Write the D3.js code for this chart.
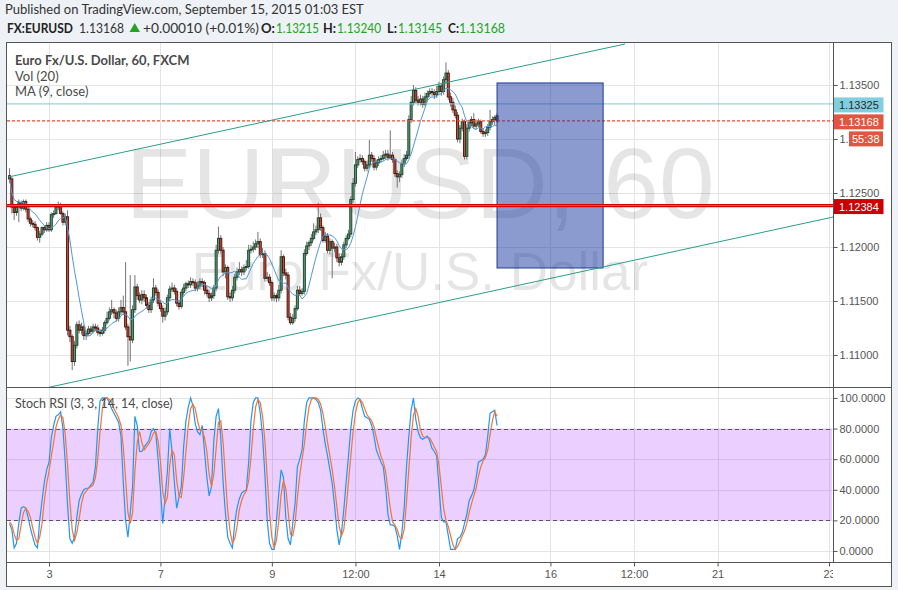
<!DOCTYPE html>
<html><head><meta charset="utf-8">
<script src="https://cdn.jsdelivr.net/npm/d3@7"></script>
<style>
html,body{margin:0;padding:0;background:#eef1f5;}
svg{display:block;}
</style></head><body>
<svg id="c" width="898" height="590"></svg>
<script>
// ---------- DATA (EUR/USD hourly, FXCM) ----------
const openP = [1.1266,1.1263,1.1237,1.1232,1.1237,1.1241,1.1236,1.1242,1.1235,1.1226,
1.1222,1.1221,1.1218,1.1209,1.1212,1.1218,1.1216,1.1220,1.1216,1.1230,
1.1231,1.1237,1.1239,1.1231,1.1223,1.1228,1.1123,1.1117,1.1094,1.1109,
1.1128,1.1123,1.1126,1.1118,1.1120,1.1124,1.1122,1.1126,1.1125,1.1121,
1.1120,1.1123,1.1130,1.1134,1.1140,1.1142,1.1139,1.1134,1.1140,1.1144,
1.1140,1.1126,1.1117,1.1114,1.1142,1.1163,1.1155,1.1151,1.1156,1.1153,
1.1146,1.1142,1.1151,1.1162,1.1158,1.1148,1.1143,1.1136,1.1140,1.1153,
1.1161,1.1162,1.1159,1.1148,1.1145,1.1158,1.1162,1.1166,1.1165,1.1168,
1.1167,1.1162,1.1164,1.1168,1.1167,1.1160,1.1157,1.1153,1.1155,1.1162,
1.1197,1.1208,1.1197,1.1177,1.1181,1.1154,1.1153,1.1160,1.1172,1.1177,
1.1179,1.1177,1.1181,1.1182,1.1197,1.1198,1.1200,1.1203,1.1205,1.1193,
1.1194,1.1171,1.1172,1.1167,1.1153,1.1155,1.1153,1.1160,1.1191,1.1176,
1.1174,1.1135,1.1130,1.1134,1.1143,1.1160,1.1157,1.1159,1.1194,1.1201,
1.1204,1.1208,1.1214,1.1216,1.1227,1.1218,1.1206,1.1210,1.1197,1.1205,
1.1199,1.1200,1.1190,1.1186,1.1191,1.1202,1.1208,1.1212,1.1244,1.1259,
1.1276,1.1281,1.1282,1.1279,1.1273,1.1276,1.1285,1.1282,1.1274,1.1278,
1.1281,1.1282,1.1285,1.1286,1.1283,1.1285,1.1281,1.1268,1.1265,1.1267,
1.1277,1.1282,1.1285,1.1318,1.1334,1.1345,1.1336,1.1334,1.1337,1.1332,
1.1339,1.1342,1.1344,1.1343,1.1341,1.1344,1.1349,1.1344,1.1355,1.1361,
1.1339,1.1334,1.1327,1.1322,1.1300,1.1310,1.1316,1.1284,1.1310,1.1315,
1.1318,1.1312,1.1314,1.1316,1.1307,1.1305,1.1306,1.1311,1.1316,1.1318,
1.13215];
const highP = [1.1273,1.1265,1.1240,1.1239,1.1244,1.1243,1.1244,1.1244,1.1237,1.1228,
1.1225,1.1224,1.1219,1.1215,1.1219,1.1220,1.1223,1.1223,1.1232,1.1234,
1.1240,1.1242,1.1241,1.1233,1.1231,1.1234,1.1127,1.1119,1.1113,1.1131,
1.1132,1.1130,1.1128,1.1123,1.1127,1.1127,1.1129,1.1129,1.1128,1.1124,
1.1126,1.1132,1.1140,1.1144,1.1151,1.1144,1.1142,1.1144,1.1151,1.1155,
1.1186,1.1129,1.1174,1.1146,1.1174,1.1166,1.1158,1.1160,1.1160,1.1156,
1.1149,1.1154,1.1171,1.1165,1.1161,1.1151,1.1146,1.1144,1.1156,1.1164,
1.1167,1.1165,1.1162,1.1151,1.1161,1.1166,1.1168,1.1169,1.1172,1.1171,
1.1170,1.1168,1.1171,1.1171,1.1169,1.1164,1.1160,1.1158,1.1165,1.1202,
1.1219,1.1211,1.1200,1.1184,1.1183,1.1158,1.1164,1.1175,1.1181,1.1186,
1.1182,1.1184,1.1188,1.1202,1.1202,1.1205,1.1207,1.1214,1.1208,1.1199,
1.1197,1.1177,1.1175,1.1169,1.1158,1.1157,1.1165,1.1197,1.1193,1.1180,
1.1177,1.1139,1.1138,1.1146,1.1164,1.1164,1.1162,1.1198,1.1205,1.1206,
1.1212,1.1222,1.1220,1.1241,1.1231,1.1220,1.1214,1.1213,1.1208,1.1207,
1.1204,1.1203,1.1194,1.1194,1.1205,1.1211,1.1216,1.1247,1.1264,1.1288,
1.1284,1.1286,1.1285,1.1281,1.1280,1.1299,1.1288,1.1285,1.1281,1.1284,
1.1285,1.1289,1.1290,1.1290,1.1308,1.1288,1.1283,1.1271,1.1270,1.1281,
1.1286,1.1289,1.1322,1.1340,1.1350,1.1348,1.1340,1.1341,1.1340,1.1343,
1.1345,1.1347,1.1347,1.1346,1.1349,1.1353,1.1352,1.1358,1.1371,1.1364,
1.1343,1.1338,1.1331,1.1325,1.1313,1.1319,1.1318,1.1314,1.1318,1.1321,
1.1324,1.1318,1.1319,1.1318,1.1310,1.1309,1.1314,1.1327,1.1321,1.1322,
1.13240];
const lowP = [1.1259,1.1231,1.1225,1.1229,1.1223,1.1233,1.1234,1.1232,1.1223,1.1219,
1.1218,1.1215,1.1206,1.1204,1.1210,1.1213,1.1214,1.1214,1.1214,1.1227,
1.1230,1.1234,1.1230,1.1220,1.1220,1.1118,1.1112,1.1086,1.1090,1.1106,
1.1120,1.1119,1.1114,1.1114,1.1118,1.1119,1.1120,1.1122,1.1118,1.1117,
1.1118,1.1120,1.1128,1.1132,1.1137,1.1134,1.1131,1.1131,1.1137,1.1137,
1.1123,1.1090,1.1094,1.1111,1.1139,1.1151,1.1148,1.1147,1.1149,1.1143,
1.1139,1.1139,1.1148,1.1155,1.1145,1.1140,1.1130,1.1132,1.1137,1.1150,
1.1158,1.1156,1.1145,1.1142,1.1143,1.1155,1.1159,1.1162,1.1162,1.1164,
1.1159,1.1159,1.1161,1.1163,1.1156,1.1154,1.1149,1.1150,1.1152,1.1159,
1.1194,1.1194,1.1173,1.1171,1.1151,1.1149,1.1150,1.1157,1.1169,1.1174,
1.1173,1.1174,1.1178,1.1180,1.1194,1.1195,1.1197,1.1199,1.1190,1.1190,
1.1168,1.1168,1.1164,1.1150,1.1150,1.1149,1.1150,1.1157,1.1173,1.1170,
1.1132,1.1128,1.1128,1.1131,1.1141,1.1155,1.1155,1.1156,1.1192,1.1197,
1.1201,1.1206,1.1211,1.1213,1.1215,1.1204,1.1204,1.1194,1.1193,1.1171,
1.1195,1.1186,1.1182,1.1183,1.1188,1.1199,1.1206,1.1209,1.1241,1.1256,
1.1273,1.1278,1.1276,1.1270,1.1270,1.1273,1.1279,1.1271,1.1271,1.1275,
1.1278,1.1280,1.1281,1.1280,1.1281,1.1278,1.1265,1.1255,1.1260,1.1264,
1.1274,1.1280,1.1282,1.1315,1.1331,1.1333,1.1331,1.1331,1.1329,1.1330,
1.1336,1.1339,1.1340,1.1337,1.1338,1.1342,1.1340,1.1341,1.1351,1.1336,
1.1330,1.1324,1.1319,1.1297,1.1296,1.1307,1.1281,1.1281,1.1307,1.1312,
1.1309,1.1309,1.1311,1.1305,1.1302,1.1302,1.1303,1.1308,1.1313,1.1313,
1.13145];
const closeP = [1.1263,1.1237,1.1232,1.1237,1.1241,1.1236,1.1242,1.1235,1.1226,1.1222,
1.1221,1.1218,1.1209,1.1212,1.1218,1.1216,1.1220,1.1216,1.1230,1.1231,
1.1237,1.1239,1.1231,1.1223,1.1228,1.1123,1.1117,1.1094,1.1109,1.1128,
1.1123,1.1126,1.1118,1.1120,1.1124,1.1122,1.1126,1.1125,1.1121,1.1120,
1.1123,1.1130,1.1134,1.1140,1.1142,1.1139,1.1134,1.1140,1.1144,1.1140,
1.1126,1.1117,1.1114,1.1142,1.1163,1.1155,1.1151,1.1156,1.1153,1.1146,
1.1142,1.1151,1.1162,1.1158,1.1148,1.1143,1.1136,1.1140,1.1153,1.1161,
1.1162,1.1159,1.1148,1.1145,1.1158,1.1162,1.1166,1.1165,1.1168,1.1167,
1.1162,1.1164,1.1168,1.1167,1.1160,1.1157,1.1153,1.1155,1.1162,1.1197,
1.1208,1.1197,1.1177,1.1181,1.1154,1.1153,1.1160,1.1172,1.1177,1.1179,
1.1177,1.1181,1.1182,1.1197,1.1198,1.1200,1.1203,1.1205,1.1193,1.1194,
1.1171,1.1172,1.1167,1.1153,1.1155,1.1153,1.1160,1.1191,1.1176,1.1174,
1.1135,1.1130,1.1134,1.1143,1.1160,1.1157,1.1159,1.1194,1.1201,1.1204,
1.1208,1.1214,1.1216,1.1227,1.1218,1.1206,1.1210,1.1197,1.1205,1.1199,
1.1200,1.1190,1.1186,1.1191,1.1202,1.1208,1.1212,1.1244,1.1259,1.1276,
1.1281,1.1282,1.1279,1.1273,1.1276,1.1285,1.1282,1.1274,1.1278,1.1281,
1.1282,1.1285,1.1286,1.1283,1.1285,1.1281,1.1268,1.1265,1.1267,1.1277,
1.1282,1.1285,1.1318,1.1334,1.1345,1.1336,1.1334,1.1337,1.1332,1.1339,
1.1342,1.1344,1.1343,1.1341,1.1344,1.1349,1.1344,1.1355,1.1361,1.1339,
1.1334,1.1327,1.1322,1.1300,1.1310,1.1316,1.1284,1.1310,1.1315,1.1318,
1.1312,1.1314,1.1316,1.1307,1.1305,1.1306,1.1311,1.1316,1.1318,1.1320,
1.13168];
const stochK = [18,14,2,5,18,28,29,28,22,15, 9,4,2,20,33,45,53,58,74,82,
88,89,91,80,58,30,8,5,9,22, 33,37,40,41,41,43,45,55,80,98,
100,100,100,97,93,90,87,84,75,45, 20,9,25,42,88,82,65,65,68,70,
72,78,80,77,60,40,18,35,52,80, 65,45,28,35,42,68,85,94,100,95,
83,78,76,82,65,48,36,42,72,88, 93,74,45,25,9,5,2,18,28,34,
38,39,40,58,85,97,100,100,90,75, 50,20,5,1,1,20,38,53,48,22,
8,4,18,31,55,60,66,85,97,100, 100,100,99,97,92,80,70,62,53,44,
30,14,4,12,27,45,62,80,92,98, 100,99,93,88,87,86,82,75,66,62,
58,55,42,24,17,17,16,10,1,12, 28,55,75,92,100,86,78,74,73,74,
75,72,67,65,62,42,22,19,19,10, 1,1,1,8,9,12,18,24,33,36,
40,48,58,59,60,63,75,90,91,92, 82];
const stochD = [19,17,11,7,8,17,25,28,26,22, 15,9,5,9,18,33,44,52,62,71,
81,86,89,87,76,56,32,14,7,12, 21,31,37,39,41,42,43,48,60,78,
93,99,100,99,97,93,90,87,82,68, 47,25,18,25,52,71,78,71,66,68,
70,73,77,78,72,59,39,31,35,56, 66,63,46,36,35,48,65,82,93,96,
93,85,79,79,74,65,50,42,50,67, 84,85,71,48,26,13,5,8,16,27,
33,37,39,46,61,80,94,99,97,88, 72,48,25,9,2,7,20,37,46,41,
26,11,10,18,35,49,60,70,83,94, 99,100,100,99,96,90,81,71,62,53,
42,29,16,10,14,28,45,62,78,90, 97,99,97,93,89,87,85,81,74,68,
62,58,52,40,28,19,17,14,9,8, 14,32,53,74,89,93,88,79,75,74,
74,74,71,68,65,56,42,28,20,16, 10,4,1,3,6,10,13,18,25,31,
36,41,49,55,59,61,66,76,85,91, 88];

const priceTicks = [1.110,1.115,1.120,1.125,1.130,1.135];
const rsiTicks = [0,20,40,60,80,100];
const timeTickIdx = [17,65,113,149,185,233,269,305,353];
const timeTickLabels = ["3","7","9","12:00","14","16","12:00","21","23"];
const hLevels = [1.13325,1.13168,1.12384];       // cyan line, last price, support
const upperChannel = [[-0.6,1.12648],[265.2,1.13880]];
const lowerChannel = [[33.4,1.10778],[354.8,1.12278]];
const boxIdx = [210,255.7], boxPrice = [1.13519,1.11806];
const countdown = "55:38";
const maLen = 9;

// ---------- LAYOUT ----------
const W=898,H=590, PL=7, PR=833, PT=43, PB=387, RT=388, RB=562, AR=891, BB=586;
const svg = d3.select("#c");
svg.append("rect").attr("width",W).attr("height",H).attr("fill","#eef1f5");
svg.append("rect").attr("x",6.5).attr("y",42.5).attr("width",AR-6).attr("height",BB-42).attr("fill","#fff");

const defs = svg.append("defs");
defs.append("clipPath").attr("id","cm").append("rect").attr("x",PL).attr("y",PT).attr("width",PR-PL).attr("height",PB-PT);
defs.append("clipPath").attr("id","cr").append("rect").attr("x",PL).attr("y",RT).attr("width",PR-PL).attr("height",RB-RT);
defs.append("clipPath").attr("id","ct").append("rect").attr("x",PL).attr("y",RB).attr("width",PR-PL).attr("height",BB-RB);
defs.append("clipPath").attr("id","ca").append("rect").attr("x",PR).attr("y",PT).attr("width",16).attr("height",PB-PT);

const x = d3.scaleLinear().domain([17,185]).range([49,439]);
const y = d3.scaleLinear().domain([1.10704,1.13889]).range([PB,PT]);
const yr = d3.scaleLinear().domain([-7.2,106.5]).range([RB,RT]);
const px = v => Math.round(v)+0.5;

const gridC = "#e4e4e4";
const grid = svg.append("g").attr("stroke",gridC).attr("stroke-width",1);
timeTickIdx.forEach(t=>{
  const xx = px(x(t)); if (xx>PR) return;
  grid.append("line").attr("x1",xx).attr("x2",xx).attr("y1",PT).attr("y2",PB);
  grid.append("line").attr("x1",xx).attr("x2",xx).attr("y1",RT).attr("y2",RB);
});
priceTicks.forEach(p=>{const yy=px(y(p)); grid.append("line").attr("x1",PL).attr("x2",PR).attr("y1",yy).attr("y2",yy);});
rsiTicks.forEach(v=>{const yy=px(yr(v)); grid.append("line").attr("x1",PL).attr("x2",PR).attr("y1",yy).attr("y2",yy);});

// watermark
const wm = svg.append("g").attr("clip-path","url(#cm)").attr("fill","rgba(0,0,0,0.1)")
  .attr("font-family","'Liberation Sans', Arial, sans-serif").attr("text-anchor","middle");
wm.append("text").attr("x",(PL+PR)/2).attr("y",218).attr("font-size",100).text("EURUSD, 60");
wm.append("text").attr("x",(PL+PR)/2).attr("y",290).attr("font-size",53).text("Euro Fx/U.S. Dollar");

// main pane
const gm = svg.append("g").attr("clip-path","url(#cm)");
const idx = d3.range(closeP.length);
gm.append("g").selectAll("line").data(idx).join("line")
  .attr("x1",i=>x(i)).attr("x2",i=>x(i)).attr("y1",i=>y(highP[i])).attr("y2",i=>y(lowP[i]))
  .attr("stroke","#737375").attr("stroke-width",1);
gm.append("g").selectAll("rect").data(idx).join("rect")
  .attr("x",i=>x(i)-1).attr("width",2)
  .attr("y",i=>y(Math.max(openP[i],closeP[i])))
  .attr("height",i=>Math.max(1,y(Math.min(openP[i],closeP[i]))-y(Math.max(openP[i],closeP[i]))))
  .attr("fill",i=>closeP[i]>=openP[i]?"#5e9e78":"#d24f3c")
  .attr("stroke",i=>closeP[i]>=openP[i]?"#1f4a31":"#4f1811").attr("stroke-width",1);

const ma = closeP.map((c,i)=>d3.mean(closeP.slice(Math.max(0,i-maLen+1),i+1)));
gm.append("path").datum(ma).attr("fill","none").attr("stroke","#4f97d6").attr("stroke-width",1)
  .attr("d",d3.line().x((d,i)=>x(i)).y(d=>y(d)));

// drawings
gm.append("line").attr("x1",PL).attr("x2",PR).attr("y1",y(hLevels[0])).attr("y2",y(hLevels[0]))
  .attr("stroke","#7ec8d6").attr("stroke-width",1);
gm.append("line").attr("x1",PL).attr("x2",PR).attr("y1",y(hLevels[1])).attr("y2",y(hLevels[1]))
  .attr("stroke","#f2452b").attr("stroke-width",1.2).attr("stroke-dasharray","3,2");
gm.append("rect").attr("x",x(boxIdx[0])).attr("width",x(boxIdx[1])-x(boxIdx[0]))
  .attr("y",y(boxPrice[0])).attr("height",y(boxPrice[1])-y(boxPrice[0]))
  .attr("fill","rgba(25,55,160,0.5)").attr("stroke","#1e3a94").attr("stroke-width",1);
const ln = d3.line().x(d=>x(d[0])).y(d=>y(d[1]));
gm.append("path").datum(upperChannel).attr("d",ln).attr("stroke","#2b9d8c").attr("stroke-width",1).attr("fill","none");
const lc = lowerChannel, slope=(lc[1][1]-lc[0][1])/(lc[1][0]-lc[0][0]);
const lcExt = [[-20, lc[0][1]+slope*(-20-lc[0][0])],[400, lc[0][1]+slope*(400-lc[0][0])]];
gm.append("path").datum(lcExt).attr("d",ln).attr("stroke","#2b9d8c").attr("stroke-width",1).attr("fill","none");
gm.append("line").attr("x1",PL).attr("x2",PR).attr("y1",y(hLevels[2])).attr("y2",y(hLevels[2]))
  .attr("stroke","#d40000").attr("stroke-width",3.2);
gm.append("line").attr("x1",PL).attr("x2",PR).attr("y1",y(hLevels[2])).attr("y2",y(hLevels[2]))
  .attr("stroke","#f06a6a").attr("stroke-width",0.8);

// legend
const fontUI = "Lato, 'Open Sans', sans-serif";
const leg = svg.append("g").attr("font-family",fontUI).attr("fill","#4a4a4a").attr("font-size",13);
leg.append("text").attr("x",15).attr("y",65).attr("font-weight","bold").text("Euro Fx/U.S. Dollar, 60, FXCM");
leg.append("text").attr("x",15).attr("y",81).text("Vol (20)");
leg.append("text").attr("x",15).attr("y",96).text("MA (9, close)");

// RSI pane
const gr = svg.append("g").attr("clip-path","url(#cr)");
gr.append("rect").attr("x",PL).attr("width",PR-PL-1).attr("y",yr(80)).attr("height",yr(20)-yr(80))
  .attr("fill","rgba(153,21,255,0.2)");
[80,20].forEach(v=>gr.append("line").attr("x1",PL).attr("x2",PR-1).attr("y1",px(yr(v))).attr("y2",px(yr(v)))
  .attr("stroke","#5e4f70").attr("stroke-dasharray","4,3").attr("stroke-width",1));
const lr = d3.line().x((d,i)=>x(i)).y(d=>yr(d));
gr.append("path").datum(stochK).attr("d",lr).attr("fill","none").attr("stroke","#2196f3").attr("stroke-width",1.2);
gr.append("path").datum(stochD).attr("d",lr).attr("fill","none").attr("stroke","#f57335").attr("stroke-width",1.2);
svg.append("text").attr("x",15).attr("y",408).attr("font-family",fontUI).attr("font-size",12.5).attr("fill","#4a4a4a")
  .text("Stoch RSI (3, 3, 14, 14, close)");

// axes
const axFont = "'Liberation Sans', Arial, sans-serif";
const styleAx = g => { g.select(".domain").remove(); g.selectAll("line").attr("stroke","#555");
  g.selectAll("text").attr("fill","#555").attr("font-family",axFont).attr("font-size",11); };
const hiddenTick = 1.130;   // its label sits under the countdown badge; only "1." shows
svg.append("g").attr("transform",`translate(${PR+0.5},0)`)
  .call(d3.axisRight(y).tickValues(priceTicks.filter(p=>p!==hiddenTick)).tickFormat(d3.format(".5f")).tickSize(4).tickPadding(2)).call(styleAx);
svg.append("g").attr("clip-path","url(#ca)").append("g").attr("transform",`translate(${PR+0.5},0)`)
  .call(d3.axisRight(y).tickValues([hiddenTick]).tickFormat(d3.format(".5f")).tickSize(4).tickPadding(2)).call(styleAx);
svg.append("g").attr("transform",`translate(${PR+0.5},0)`)
  .call(d3.axisRight(yr).tickValues(rsiTicks).tickFormat(d3.format(".4f")).tickSize(4).tickPadding(2)).call(styleAx);
svg.append("g").attr("clip-path","url(#ct)").append("g").attr("transform",`translate(0,${RB+0.5})`)
  .call(d3.axisBottom(x).tickValues(timeTickIdx).tickFormat((d,i)=>timeTickLabels[i]).tickSize(4).tickPadding(4)).call(styleAx);

// price labels
const boxes = [{v:hLevels[0],fill:"#80cfe0",tc:"#2b2b2b"},{v:hLevels[1],fill:"#df5641",tc:"#fff"},{v:hLevels[2],fill:"#cc0000",tc:"#fff"}];
const gl = svg.append("g").attr("font-family",axFont).attr("font-size",11);
boxes.forEach(b=>{
  const cy = y(b.v)+1;
  gl.append("rect").attr("x",PR+0.5).attr("y",cy-7.5).attr("width",50).attr("height",15).attr("fill",b.fill);
  gl.append("text").attr("x",PR+6).attr("y",cy+4).attr("fill",b.tc).text(d3.format(".5f")(b.v));
});
{
  const cy = y(hLevels[1])+1+17;
  gl.append("rect").attr("x",849).attr("y",cy-7.5).attr("width",34).attr("height",15).attr("fill","#df5641");
  gl.append("text").attr("x",852).attr("y",cy+4).attr("fill","#fff").text(countdown);
}

// borders
const bd = svg.append("g").attr("stroke","#555").attr("stroke-width",1).attr("fill","none");
bd.append("rect").attr("x",6.5).attr("y",42.5).attr("width",AR-6).attr("height",BB-42);
bd.append("line").attr("x1",PL).attr("x2",AR).attr("y1",PB+0.5).attr("y2",PB+0.5);
bd.append("line").attr("x1",PL).attr("x2",AR).attr("y1",RB+0.5).attr("y2",RB+0.5);
bd.append("line").attr("x1",PR+0.5).attr("x2",PR+0.5).attr("y1",PT).attr("y2",RB);

// header
const hd = svg.append("g").attr("font-family",fontUI).attr("font-size",13).attr("fill","#333");
hd.append("text").attr("x",5).attr("y",14).text("Published on TradingView.com, September 15, 2015 01:03 EST");
const g2 = "#24a324";
const parts = [
  {x:7,w:66,t:"FX:EURUSD",b:1,c:"#222"},{x:79,w:45,t:"1.13168",c:"#333"},{x:143,w:116,t:"+0.00010 (+0.01%)",c:"#333"},
  {x:261,w:14,t:"O:",b:1,c:"#222"},{x:276,w:43,t:"1.13215",c:g2},{x:323,w:13,t:"H:",b:1,c:"#222"},{x:337,w:44,t:"1.13240",c:g2},
  {x:387,w:10,t:"L:",b:1,c:"#222"},{x:398,w:44,t:"1.13145",c:g2},{x:448,w:11,t:"C:",b:1,c:"#222"},{x:459,w:46,t:"1.13168",c:g2}];
parts.forEach(p=>hd.append("text").attr("x",p.x).attr("y",33).attr("fill",p.c).attr("font-weight",p.b?"bold":"normal")
  .attr("textLength",p.w).attr("lengthAdjust","spacingAndGlyphs").text(p.t));
hd.append("path").attr("d","M129.5,32 L140,32 L134.75,23 Z").attr("fill",g2);
</script>
</body></html>
